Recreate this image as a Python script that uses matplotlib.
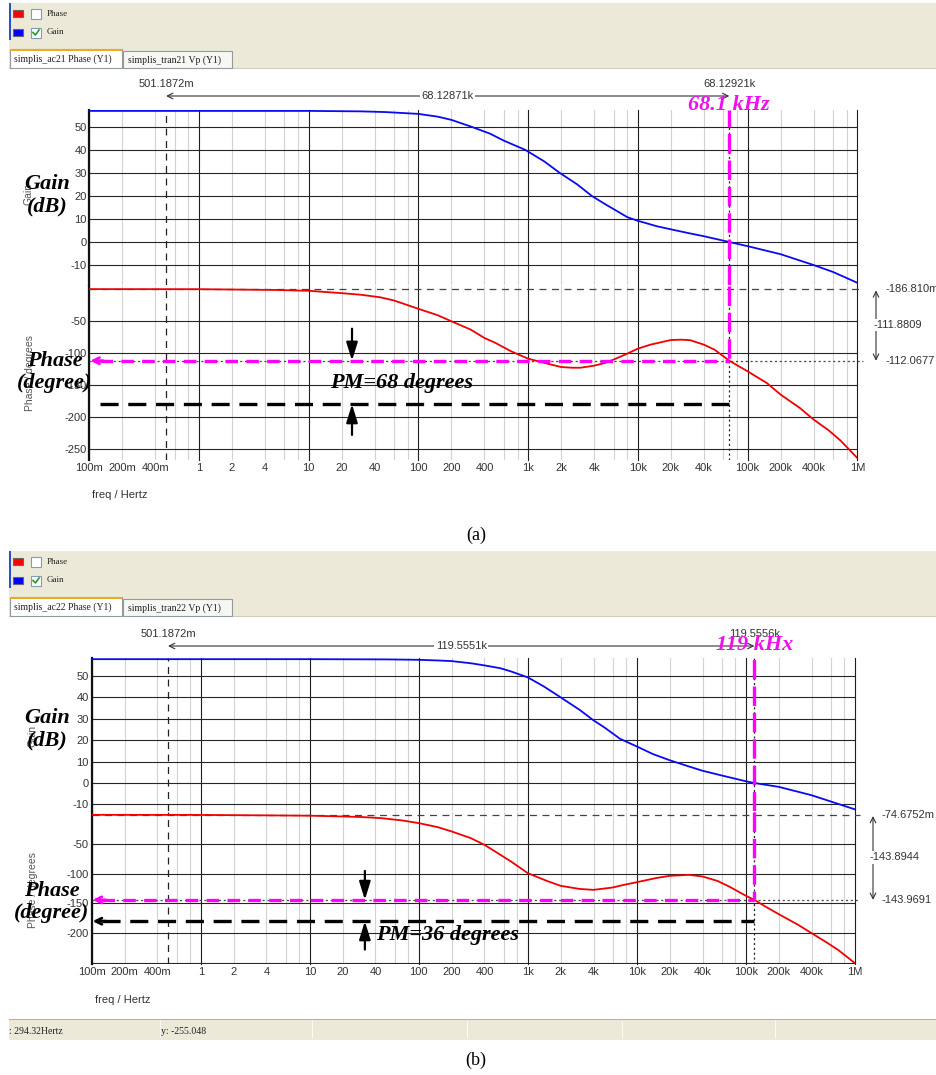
import matplotlib
matplotlib.use('Agg')
import matplotlib.pyplot as plt
from matplotlib.patches import Rectangle
from matplotlib.lines import Line2D
from matplotlib.ticker import NullLocator
from matplotlib.transforms import blended_transform_factory as blend
import numpy as np

plt.rcParams['font.family'] = ['Liberation Sans', 'DejaVu Sans']
plt.rcParams['lines.scale_dashes'] = False
plt.rcParams['axes.unicode_minus'] = False

W, H = 936, 1075
SERIF = ['Liberation Serif', 'DejaVu Serif']

# shared frequency axis
freq_ticks = [0.1, 0.2, 0.4, 1, 2, 4, 10, 20, 40, 100, 200, 400,
              1e3, 2e3, 4e3, 1e4, 2e4, 4e4, 1e5, 2e5, 4e5, 1e6]
freq_labels = ['100m', '200m', '400m', '1', '2', '4', '10', '20', '40',
               '100', '200', '400', '1k', '2k', '4k', '10k', '20k', '40k',
               '100k', '200k', '400k', '1M']
gain_ticks = [50, 40, 30, 20, 10, 0, -10]
phase_grid = [-50, -100, -150, -200, -250]

legend_names = ['Phase', 'Gain']
legend_colors = ['#ff0000', '#0000ff']
legend_checked = [False, True]

# run ac21
gain_a_freq = [0.1, 1, 10, 30, 50, 100, 150, 200, 305, 450, 600, 940, 1.4e3, 1.94e3,
               2.8e3, 3.8e3, 5e3, 6e3, 8e3, 1e4, 1.5e4, 2e4, 3e4, 4e4,
               6.812921e4, 1e5, 2e5, 4e5, 6e5, 1e6]
gain_a_db = [56.9, 56.9, 56.9, 56.7, 56.4, 55.6, 54.4, 53.0, 50.0, 47.0, 44.0, 40.0, 35.0, 30.0,
             25.0, 20.0, 16.5, 14.3, 10.8, 9.2, 6.8, 5.5, 3.7, 2.5,
             0.0, -1.8, -5.3, -10.0, -13.0, -17.7]
phase_a_freq = [0.1, 1, 5, 10, 20, 30, 45, 60, 100, 150, 200, 300, 400, 500, 700,
                1e3, 1.5e3, 2e3, 2.5e3, 3e3, 4e3, 5e3, 6e3, 8e3, 1e4, 1.3e4, 2e4,
                2.5e4, 3e4, 4e4, 5e4, 6.812921e4, 1e5, 1.5e5, 2e5, 3e5, 4e5, 5.5e5,
                7e5, 1e6]
phase_a_deg = [-0.19, -0.3, -1.5, -2.8, -6.5, -9.0, -13.0, -18.0, -31.0, -41.0,
               -50.5, -63.5, -76.6, -84.0, -97.4, -108.9, -116.7, -121.9, -123.0,
               -123.0, -119.8, -115.6, -110.4, -101.0, -93.2, -87.0, -79.7, -79.2,
               -80.0, -87.0, -94.8, -112.07, -128.6, -147.0, -165.0, -186.0, -204.0,
               -221.0, -236.5, -264.0]
cursor_a = dict(f1=0.5011872, f2=68129.21, f1_txt='501.1872m', f2_txt='68.12921k',
                df_txt='68.12871k', p_top=-0.186810, p_cross=-112.0677,
                p_top_txt='-186.810m', p_cross_txt='-112.0677', dp_txt='-111.8809')
fc_a_txt = '68.1 kHz'
pm_a_txt = 'PM=68 degrees'

# run ac22
gain_b_freq = [0.1, 1, 10, 50, 100, 150, 200, 300, 400, 557, 700, 1e3, 1.4e3, 2e3,
               3e3, 4e3, 5e3, 7e3, 1e4, 1.4e4, 2e4, 3e4, 4e4, 6e4, 1e5, 1.195556e5,
               2e5, 4e5, 1e6]
gain_b_db = [57.7, 57.7, 57.7, 57.6, 57.4, 57.1, 56.8, 55.8, 54.8, 53.5, 52.0, 49.2,
             45.0, 39.9, 34.0, 29.2, 26.0, 20.6, 17.0, 13.5, 10.6, 7.7, 5.7, 3.5,
             0.8, 0.0, -1.8, -5.7, -12.3]
phase_b_freq = [0.1, 1, 10, 20, 30, 45, 70, 100, 150, 200, 300, 400, 500, 700, 1e3,
                1.5e3, 2e3, 3e3, 4e3, 6e3, 7e3, 1e4, 1.5e4, 2e4, 3e4, 4e4, 5.5e4, 7e4,
                1e5, 1.195556e5, 1.5e5, 2e5, 3e5, 4e5, 5.5e5, 7e5, 1e6]
phase_b_deg = [-0.07, -0.2, -1.5, -2.8, -3.8, -5.6, -9.5, -14.1, -21.0, -28.2, -39.5,
               -50.8, -62.0, -79.0, -98.8, -112.0, -120.2, -125.5, -127.0, -123.0,
               -120.0, -114.0, -107.0, -103.3, -101.6, -104.4, -112.0, -121.3, -137.1,
               -143.97, -155.0, -168.2, -186.0, -200.3, -216.0, -228.6, -251.1]
cursor_b = dict(f1=0.5011872, f2=119555.6, f1_txt='501.1872m', f2_txt='119.5556k',
                df_txt='119.5551k', p_top=-0.0746752, p_cross=-143.9691,
                p_top_txt='-74.6752m', p_cross_txt='-143.9691', dp_txt='-143.8944')
fc_b_txt = '119 kHx'
pm_b_txt = 'PM=36 degrees'

pm_ref = -180

# pixel layout of each panel
lay_a = dict(dy=0, x0=89.3, x1=857.3, g_top=110, g_bot=285, g_zero=242.0, g_ppd=2.304,
             p_top=286, p_bot=460, p_zero=289.0, p_ppd=0.64, ph_ticks=[-50, -100, -150, -200, -250],
             lbl_y=84, arr_y=96, fc_y=105, rlab_x=886, rarr_x=876, rmid_x=873,
             gain_lbl=(47, 195.5), phase_lbl=(55, 372), small_gain=(29, 194), small_phase=(30, 373),
             freq_y=495, pm_arrow_f=24.8, pm_tail=-62, pm_txt=(15.6, -147), black_head=False,
             tag='(a)', tag_y=535)
lay_b = dict(dy=548, x0=91.7, x1=855.0, g_top=658, g_bot=811, g_zero=783.0, g_ppd=2.146,
             p_top=812, p_bot=964, p_zero=814.8, p_ppd=0.591, ph_ticks=[-50, -100, -150, -200],
             lbl_y=634, arr_y=646, fc_y=645, rlab_x=882, rarr_x=873, rmid_x=869,
             gain_lbl=(47, 729), phase_lbl=(52, 902), small_gain=(33, 736), small_phase=(33, 890),
             freq_y=1000, pm_arrow_f=32, pm_tail=-95, pm_txt=(40.5, -203), black_head=True,
             tag='(b)', tag_y=1060)

fig = plt.figure(figsize=(W / 100, H / 100), dpi=100)
fig.patch.set_facecolor('white')


def fx(x):
    return x / W


def fy(y):
    return 1 - y / H


def rect(x0, y0, x1, y1):
    return [x0 / W, 1 - y1 / H, (x1 - x0) / W, (y1 - y0) / H]


def box(x0, y0, x1, y1, fc, ec='none', lw=0.8):
    fig.add_artist(Rectangle((x0 / W, 1 - y1 / H), (x1 - x0) / W, (y1 - y0) / H,
                             transform=fig.transFigure, fc=fc, ec=ec, lw=lw))


def ftext(x, y, s, **kw):
    fig.text(fx(x), fy(y), s, **kw)


def toolbar(dy, run):
    box(9, dy + 3, W, dy + 68, '#ece9d8')
    box(9, dy + 3, 11, dy + 40, '#2c4fd0')
    for i, name in enumerate(legend_names):
        y = dy + 13.5 + 19 * i
        box(13, y - 3.5, 23, y + 3.5, legend_colors[i], ec='#666')
        box(31, y - 5, 41, y + 5, 'white', ec='#7f9db9')
        if legend_checked[i]:
            fig.add_artist(Line2D([fx(33), fx(35.5), fx(39)], [fy(y), fy(y + 2.5), fy(y - 2.5)],
                                  transform=fig.transFigure, color='#21a121', lw=1.2))
        ftext(47, y, name, family=SERIF, fontsize=6.5, va='center', color='#222')
    box(9, dy + 67.5, W, dy + 68.5, '#cfcbbb')
    box(10, dy + 49, 122, dy + 68, 'white', ec='#919b9c')
    box(10, dy + 49, 122, dy + 51, '#f5a623')
    ftext(14, dy + 59, f'simplis_ac{run} Phase (Y1)', family=SERIF, fontsize=7,
          va='center', color='#222')
    box(123, dy + 51, 232, dy + 68, '#f7f7f4', ec='#919b9c')
    ftext(128, dy + 60, f'simplis_tran{run} Vp (Y1)', family=SERIF, fontsize=7,
          va='center', color='#222')


def style_axes(ax):
    ax.set_xscale('log')
    ax.set_xlim(0.1, 1e6)
    ax.patch.set_alpha(0)
    for s in ax.spines.values():
        s.set_visible(False)
    ax.spines['left'].set_visible(True)
    ax.spines['left'].set_linewidth(1.6)
    ax.spines['left'].set_color('#111')
    ax.xaxis.set_minor_locator(NullLocator())
    ax.tick_params(length=0, labelsize=8, labelcolor='#333', pad=2)
    for d in 10.0 ** np.arange(-1, 7):
        ax.axvline(d, color='#1e1e1e', lw=0.8, zorder=1, clip_on=False)
        if d < 1e6:
            for m in (2, 4, 6, 8):
                ax.axvline(m * d, color='#d2d2d2', lw=0.8, zorder=0.5)


def panel(L, gain_f, gain_db, ph_f, ph_deg, cur, fc_txt, pm_txt):
    axg = fig.add_axes(rect(L['x0'], L['g_top'], L['x1'], L['g_bot']))
    axp = fig.add_axes(rect(L['x0'], L['p_top'], L['x1'], L['p_bot']))
    axg.set_ylim(-(L['g_bot'] - L['g_zero']) / L['g_ppd'], (L['g_zero'] - L['g_top']) / L['g_ppd'])
    ptop = (L['p_zero'] - L['p_top']) / L['p_ppd']
    axp.set_ylim(-(L['p_bot'] - L['p_zero']) / L['p_ppd'], ptop)
    for ax in (axg, axp):
        style_axes(ax)

    axg.set_xticks([])
    axg.set_yticks(gain_ticks, [str(t) for t in gain_ticks])
    for v in gain_ticks:
        axg.axhline(v, color='#262626', lw=0.8, zorder=1)
    axp.set_xticks(freq_ticks, freq_labels)
    axp.set_yticks(L['ph_ticks'], [str(t) for t in L['ph_ticks']])
    for v in phase_grid:
        axp.axhline(v, color='#262626', lw=0.8, zorder=1)

    axg.plot(gain_f, gain_db, color='#0a0af0', lw=1.3, zorder=5)
    axp.plot(ph_f, ph_deg, color='#f00000', lw=1.3, zorder=5)

    # cursors
    f1, f2 = cur['f1'], cur['f2']
    for ax in (axg, axp):
        ax.axvline(f1, color='#222', lw=0.9, ls=(0, (5, 4)), zorder=4)
        ax.axvline(f2, color='#222', lw=0.9, ls=(0, (1.5, 2)), zorder=4)
    axp.axhline(cur['p_top'], xmax=1.007, clip_on=False, color='#444', lw=0.9,
                ls=(0, (5, 4)), zorder=4)
    axp.axhline(cur['p_cross'], xmax=1.007, clip_on=False, color='#444', lw=0.9,
                ls=(0, (1.5, 2)), zorder=4)

    trt = blend(axg.transData, fig.transFigure)
    for f, s in ((f1, cur['f1_txt']), (f2, cur['f2_txt'])):
        axg.text(f, fy(L['lbl_y']), s, transform=trt, ha='center', va='center',
                 fontsize=8, color='#333')
    axg.annotate('', xy=(f1, fy(L['arr_y'])), xytext=(f2, fy(L['arr_y'])),
                 xycoords=trt, textcoords=trt,
                 arrowprops=dict(arrowstyle='<->', color='#333', lw=0.8,
                                 shrinkA=0, shrinkB=0, mutation_scale=10))
    axg.text(np.sqrt(f1 * f2), fy(L['arr_y']), cur['df_txt'], transform=trt, ha='center',
             va='center', fontsize=8, color='#333',
             bbox=dict(fc='white', ec='none', pad=1))

    trr = blend(fig.transFigure, axp.transData)
    axp.text(fx(L['rlab_x']), cur['p_top'], cur['p_top_txt'], transform=trr,
             va='center', fontsize=8, color='#333')
    axp.text(fx(L['rlab_x']), cur['p_cross'], cur['p_cross_txt'], transform=trr,
             va='center', fontsize=8, color='#333')
    axp.annotate('', xy=(fx(L['rarr_x']), cur['p_top'] - 2), xytext=(fx(L['rarr_x']), cur['p_cross']),
                 xycoords=trr, textcoords=trr,
                 arrowprops=dict(arrowstyle='<->', color='#333', lw=0.8,
                                 shrinkA=0, shrinkB=0, mutation_scale=10))
    axp.text(fx(L['rmid_x']), (cur['p_top'] + cur['p_cross']) / 2, cur['dp_txt'], transform=trr,
             va='center', fontsize=8, color='#333', bbox=dict(fc='white', ec='none', pad=1))

    # crossover and phase-margin markup
    mag = '#ff00ff'
    axg.axvline(f2, color=mag, lw=2.4, dashes=(14, 5), zorder=6)
    axp.plot([f2, f2], [ptop, cur['p_cross']], color=mag, lw=2.4, dashes=(14, 5), zorder=6)
    f_left = 0.125
    axp.plot([f_left, f2], [cur['p_cross']] * 2, color=mag, lw=2.4, dashes=(9, 6), zorder=6)
    axp.annotate('', xy=(0.102, cur['p_cross']), xytext=(0.135, cur['p_cross']),
                 arrowprops=dict(arrowstyle='->', color=mag, lw=2.0, shrinkA=0, shrinkB=0,
                                 mutation_scale=11), zorder=6)
    axp.plot([f_left, f2], [pm_ref] * 2, color='black', lw=2.4, dashes=(13, 7), zorder=6)
    if L['black_head']:
        axp.annotate('', xy=(0.102, pm_ref), xytext=(0.135, pm_ref),
                     arrowprops=dict(arrowstyle='->', color='black', lw=2.0, shrinkA=0,
                                     shrinkB=0, mutation_scale=11), zorder=6)
    fa = L['pm_arrow_f']
    head = dict(arrowstyle='-|>,head_length=0.55,head_width=0.17', color='black', lw=1.6,
                shrinkA=0, shrinkB=0, mutation_scale=20)
    axp.annotate('', xy=(fa, cur['p_cross']), xytext=(fa, L['pm_tail']), arrowprops=head, zorder=7)
    axp.annotate('', xy=(fa, pm_ref), xytext=(fa, -228), arrowprops=head, zorder=7)
    bi = dict(family=SERIF, fontsize=16, weight='bold', style='italic')
    axp.text(L['pm_txt'][0], L['pm_txt'][1], pm_txt, va='center', ha='left', zorder=8, **bi)
    axg.text(f2, fy(L['fc_y']), fc_txt, transform=trt, ha='center', va='center',
             color='#ee11ee', zorder=8, **bi)

    # axis titles
    ftext(*L['small_gain'], 'Gain', rotation=90, fontsize=7.5, color='#555', ha='center', va='center')
    ftext(*L['small_phase'], 'Phase / degrees', rotation=90, fontsize=7.5, color='#555',
          ha='center', va='center')
    ftext(*L['gain_lbl'], 'Gain\n(dB)', ha='center', va='center', linespacing=1.15, **bi)
    ftext(*L['phase_lbl'], 'Phase\n(degree)', ha='center', va='center', linespacing=1.1, **bi)
    ftext(L['x0'] + 3, L['freq_y'], 'freq / Hertz', fontsize=8, color='#333', va='center')
    ftext(476, L['tag_y'], L['tag'], family=SERIF, fontsize=13, ha='center', va='center')


toolbar(lay_a['dy'], 21)
toolbar(lay_b['dy'], 22)
panel(lay_a, gain_a_freq, gain_a_db, phase_a_freq, phase_a_deg, cursor_a, fc_a_txt, pm_a_txt)
panel(lay_b, gain_b_freq, gain_b_db, phase_b_freq, phase_b_deg, cursor_b, fc_b_txt, pm_b_txt)

# status bar
box(9, 1019, W, 1040, '#ece9d8')
box(9, 1018.5, W, 1019.5, '#a7b0bf')
for x in (160, 312, 467, 622, 775):
    box(x, 1021, x + 1, 1038, '#fbfaf5')
ftext(9, 1031, ': 294.32Hertz', family=SERIF, fontsize=7, va='center', color='#222')
ftext(161, 1031, 'y: -255.048', family=SERIF, fontsize=7, va='center', color='#222')

fig.savefig('out.png', dpi=100)
